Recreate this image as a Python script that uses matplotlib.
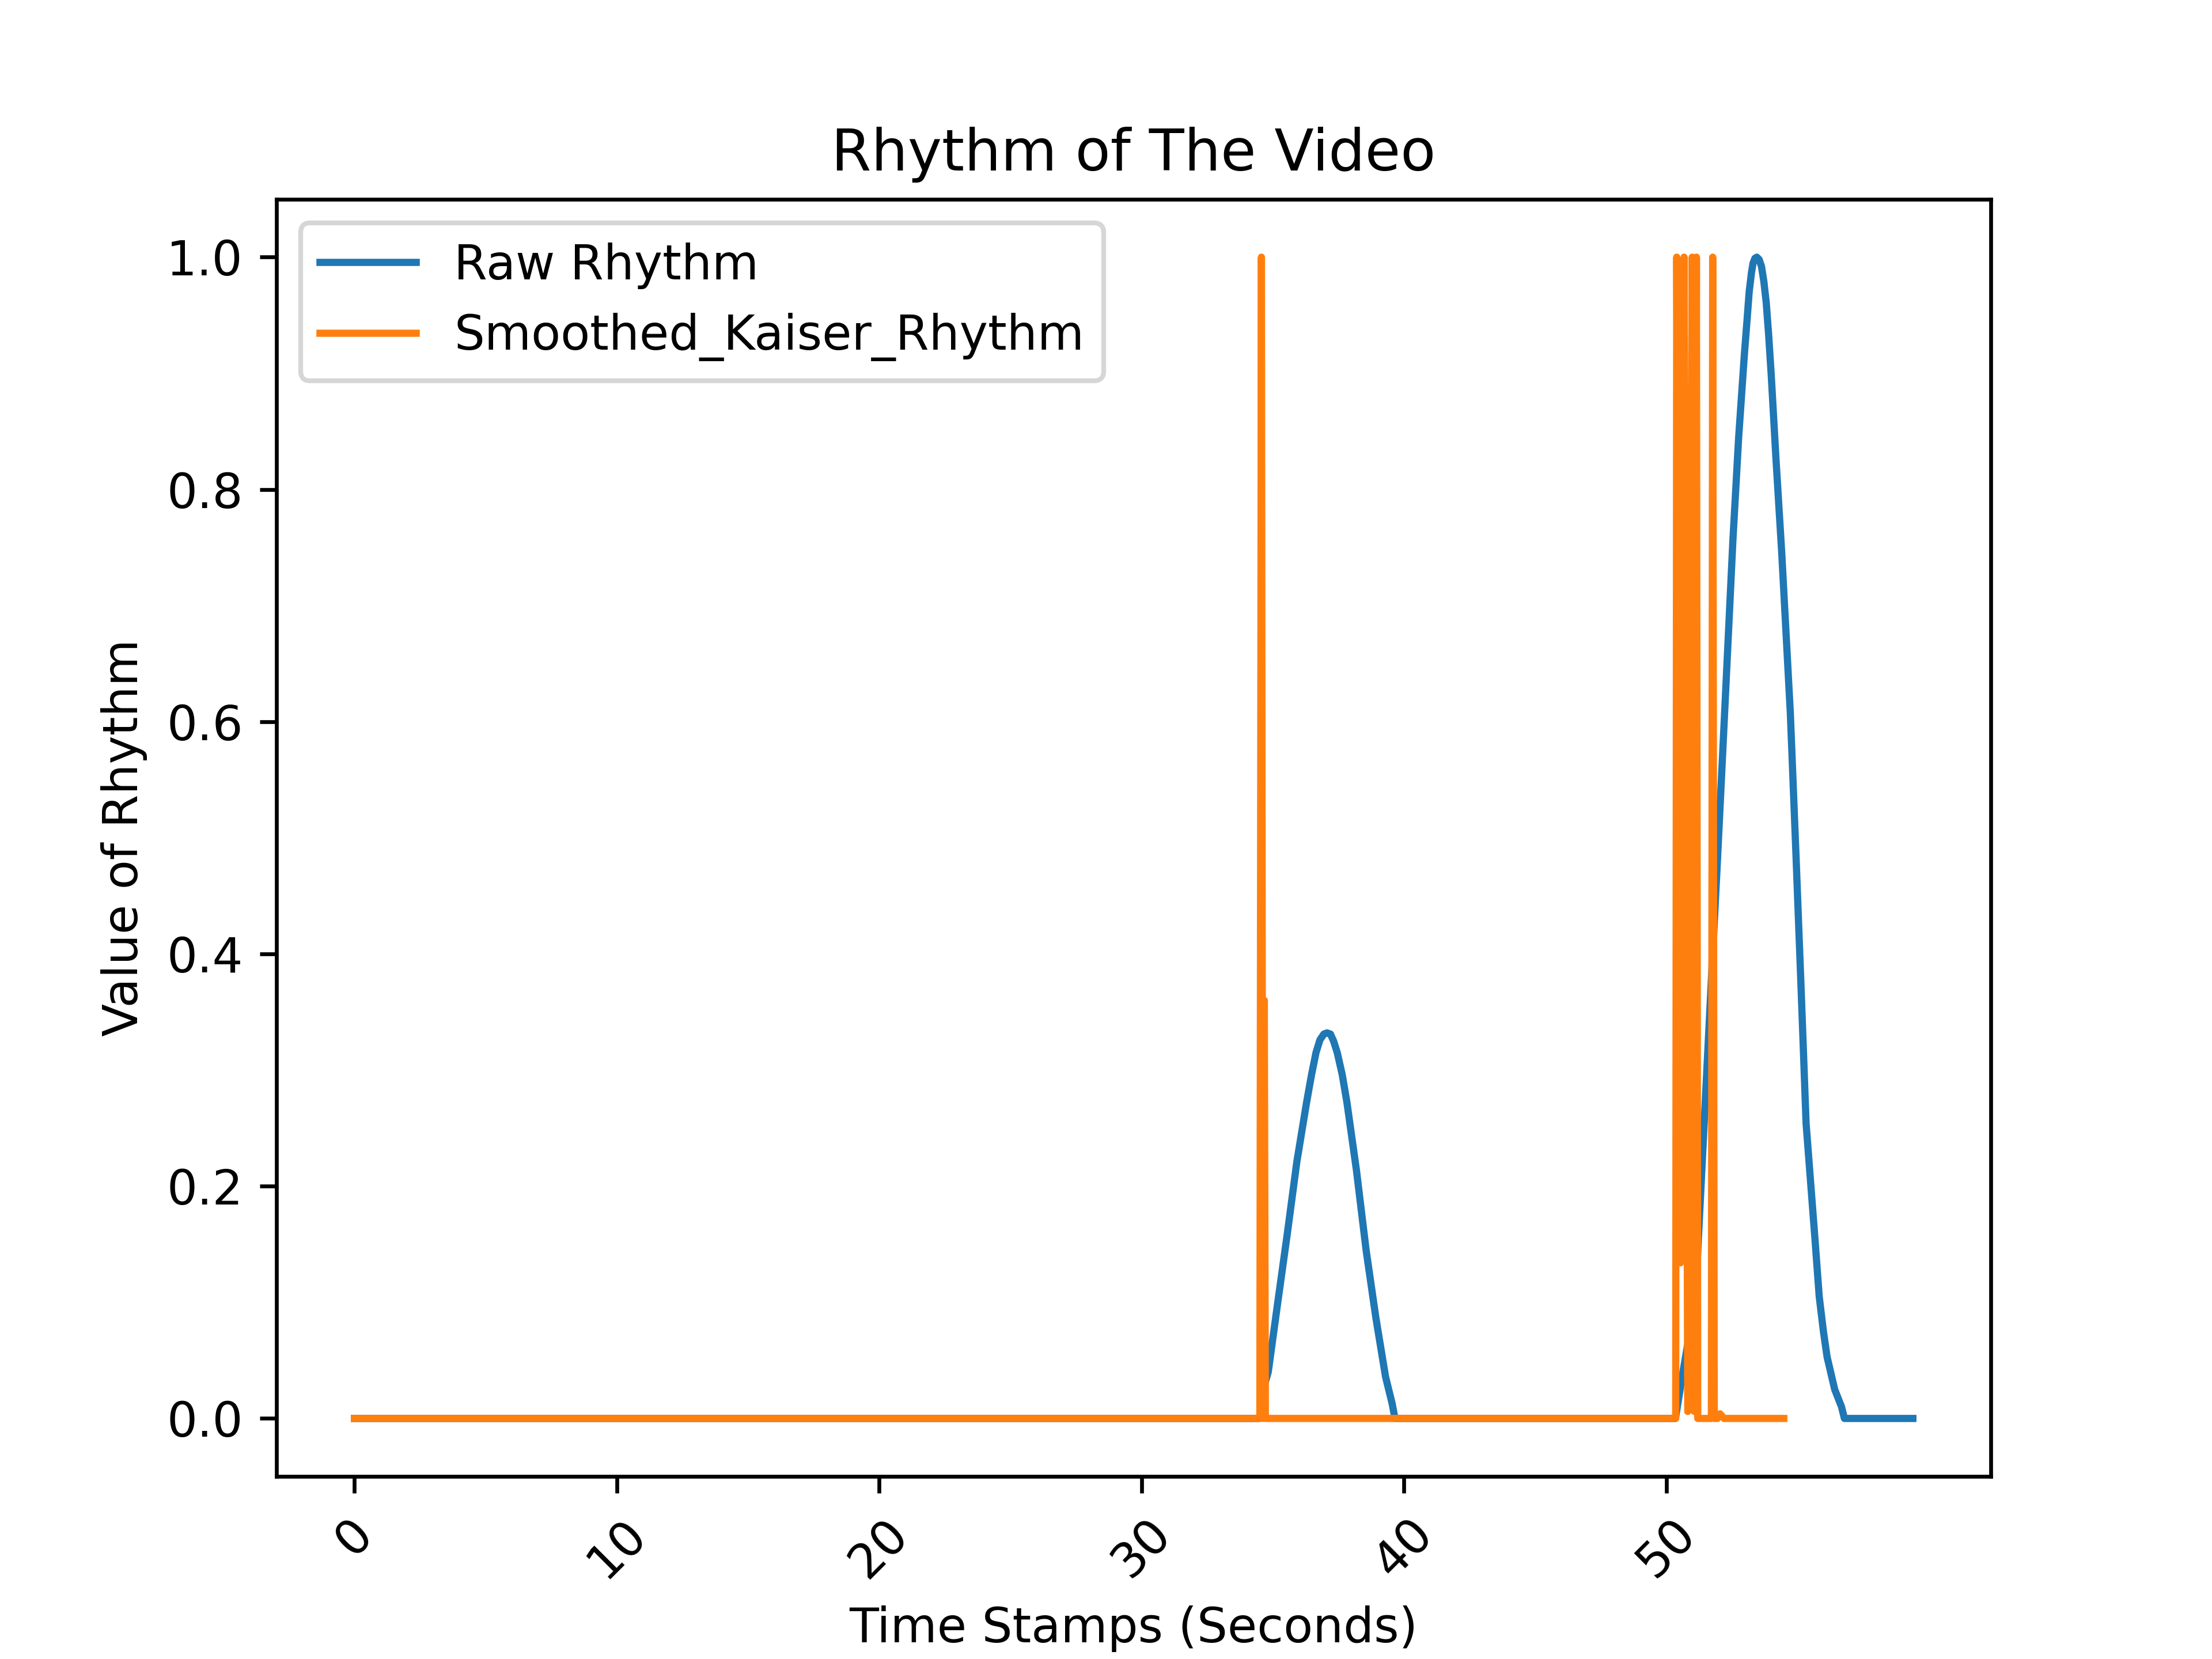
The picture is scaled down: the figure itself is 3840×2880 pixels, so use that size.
#! /usr/bin/env python

import numpy as np
import matplotlib
matplotlib.use("Agg")
import matplotlib.pyplot as plt

# values (seconds, rhythm value)
raw_time = [0.0, 34.50, 34.60, 34.83, 35.19, 35.55, 35.92, 36.29, 36.48, 36.65,
            36.80, 36.95, 37.07, 37.20, 37.32, 37.46, 37.65, 37.83, 38.19, 38.56,
            38.93, 39.30, 39.55, 39.66,
            50.35, 50.60, 50.90, 51.17, 51.72, 51.95, 52.17, 52.54, 52.76, 52.98,
            53.08, 53.16, 53.25, 53.31, 53.38, 53.45, 53.54, 53.63, 53.72, 53.81,
            53.90, 54.00, 54.18, 54.40, 54.73, 54.95,
            55.14, 55.33, 55.67, 55.83, 55.99, 56.13, 56.42, 56.68, 56.79, 59.40]
raw_rhythm = [0.0, 0.0, 0.022, 0.040, 0.0995, 0.158, 0.221, 0.272, 0.296, 0.315,
              0.326, 0.331, 0.332, 0.331, 0.325, 0.315, 0.296, 0.272, 0.214, 0.145,
              0.087, 0.036, 0.013, 0.0,
              0.0, 0.035, 0.075, 0.13, 0.378, 0.48, 0.582, 0.756, 0.845, 0.917,
              0.946, 0.970, 0.987, 0.995, 0.999, 1.0, 0.998, 0.992, 0.979, 0.961,
              0.934, 0.899, 0.827, 0.746, 0.607, 0.482,
              0.37, 0.254, 0.154, 0.105, 0.075, 0.053, 0.025, 0.010, 0.0, 0.0]

kaiser_time = [0.0, 34.51, 34.57, 34.62, 34.68, 34.72,
               50.36, 50.40, 50.54, 50.68, 50.82, 50.99, 51.07, 51.15, 51.20,
               51.72, 51.77, 51.83, 51.95, 52.05, 52.20, 54.48]
kaiser_rhythm = [0.0, 0.0, 1.0, 0.0, 0.36, 0.0,
                 0.0, 1.0, 0.134, 1.0, 0.006, 1.0, 0.006, 1.0, 0.0,
                 0.0, 1.0, 0.0, 0.0, 0.004, 0.0, 0.0]

tick_positions = np.arange(0, 60, 10)

fig, ax = plt.subplots(figsize=(6.4, 4.8), dpi=600)
ax.plot(raw_time, raw_rhythm, label="Raw Rhythm")
ax.plot(kaiser_time, kaiser_rhythm, label="Smoothed_Kaiser_Rhythm")

ax.set_xticks(tick_positions)
plt.setp(ax.get_xticklabels(), rotation=45)
ax.set_title("Rhythm of The Video")
ax.set_xlabel("Time Stamps (Seconds)")
ax.set_ylabel("Value of Rhythm")
ax.legend(loc="upper left")

fig.savefig("out.png", dpi=600)
